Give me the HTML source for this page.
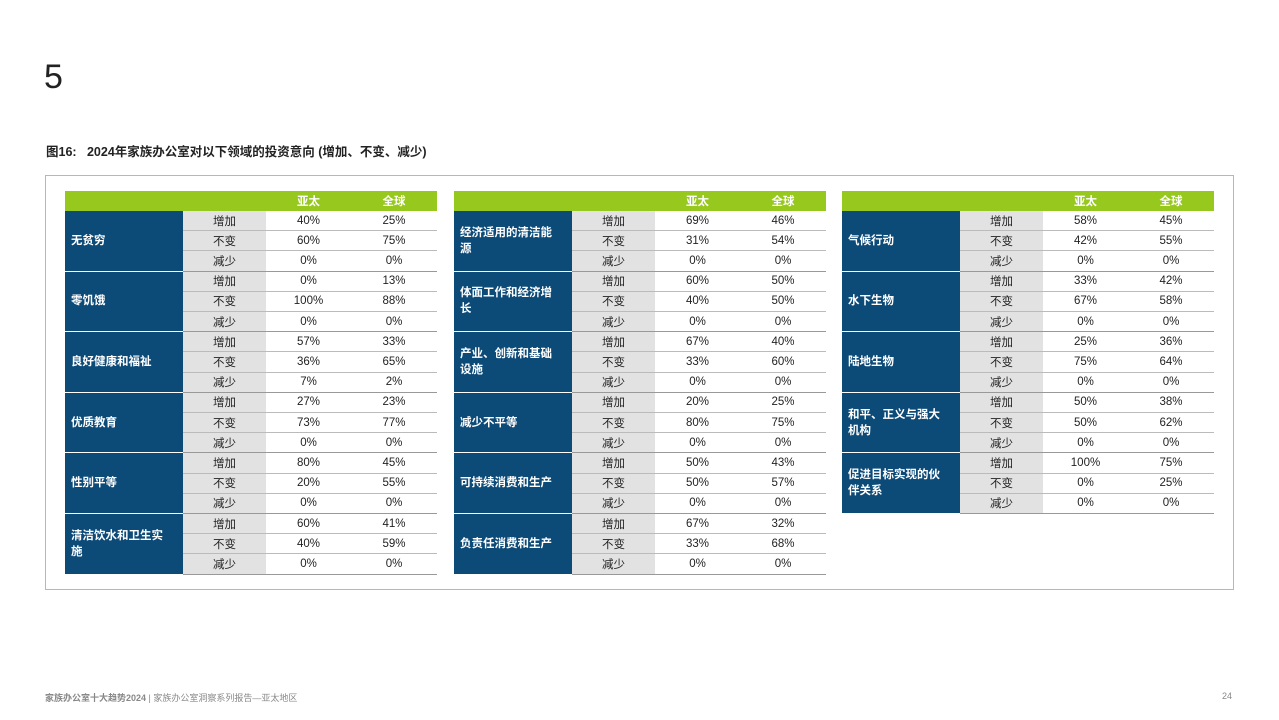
<!DOCTYPE html>
<html><head><meta charset="utf-8">
<style>
body{margin:0;width:1279px;height:720px;background:#fff;position:relative;overflow:hidden;font-family:"Liberation Sans","Noto Sans CJK SC",sans-serif;}
.abs{position:absolute;}
.cell{position:absolute;display:flex;align-items:center;box-sizing:border-box;font-size:11.5px;color:#222;}
</style></head><body>
<div class="abs" style="left:44px;top:58px;font-size:34px;color:#222;font-weight:300;">5</div>
<div class="abs" style="left:46px;top:141px;font-size:12.5px;font-weight:bold;color:#222;">图16:&nbsp;&nbsp; 2024年家族办公室对以下领域的投资意向 (增加、不变、减少)</div>
<div class="abs" style="left:45px;top:175px;width:1189px;height:415px;border:1.5px solid #a9d34f;box-sizing:border-box;"></div>
<div id="tables"></div>
<div class="abs" style="left:45px;top:691px;font-size:9px;color:#888;"><b>家族办公室十大趋势2024</b> | 家族办公室洞察系列报告—亚太地区</div>
<div class="abs" style="left:1222px;top:691px;font-size:9px;color:#888;">24</div>
<script>
const labels=["增加","不变","减少"];
const cats1=["无贫穷","零饥饿","良好健康和福祉","优质教育","性别平等","清洁饮水和卫生实施"];
const ap1=[[40,60,0],[0,100,0],[57,36,7],[27,73,0],[80,20,0],[60,40,0]];
const gl1=[[25,75,0],[13,88,0],[33,65,2],[23,77,0],[45,55,0],[41,59,0]];
const cats2=["经济适用的清洁能源","体面工作和经济增长","产业、创新和基础设施","减少不平等","可持续消费和生产","负责任消费和生产"];
const ap2=[[69,31,0],[60,40,0],[67,33,0],[20,80,0],[50,50,0],[67,33,0]];
const gl2=[[46,54,0],[50,50,0],[40,60,0],[25,75,0],[43,57,0],[32,68,0]];
const cats3=["气候行动","水下生物","陆地生物","和平、正义与强大机构","促进目标实现的伙伴关系"];
const ap3=[[58,42,0],[33,67,0],[25,75,0],[50,50,0],[100,0,0]];
const gl3=[[45,55,0],[42,58,0],[36,64,0],[38,62,0],[75,25,0]];
const root=document.getElementById('tables');
function mk(x,y,w,h,css,txt){const d=document.createElement('div');d.className='cell';d.style.cssText+=`left:${x}px;top:${y}px;width:${w}px;height:${h}px;`+css;if(txt!==undefined)d.textContent=txt;root.appendChild(d);return d;}
function table(x0,cats,ap,gl,ti){
  const top=191,hh=20,rh=20.2,w=[118,83,85,86];
  const xs=[x0,x0+w[0],x0+w[0]+w[1],x0+w[0]+w[1]+w[2]];
  let h=mk(x0,top,372,hh,'background:#97c81e;');
  
  
  let a=mk(xs[2],top,w[2],hh,'justify-content:center;color:#fff;font-weight:bold;font-size:11.5px;','亚太');
  
  
  let g=mk(xs[3],top,w[3],hh,'justify-content:center;color:#fff;font-weight:bold;font-size:11.5px;','全球');
  
  
  cats.forEach((c,i)=>{
    const gy=top+hh+i*rh*3;
    const cc=mk(xs[0],gy,w[0],rh*3,'background:#0c4a78;color:#fff;font-weight:bold;padding:0 18px 0 6px;line-height:16px;border-bottom:1px solid #fff;',c);
    
    
    for(let r=0;r<3;r++){
      const y=gy+r*rh;
      const bb=r==2?'border-bottom:1px solid #999;':'border-bottom:1px solid #bbb;';
      const lc=mk(xs[1],y,w[1],rh,'background:#e2e2e2;justify-content:center;'+bb,labels[r]);
      
      
      const v1=mk(xs[2],y,w[2],rh,'justify-content:center;'+bb,ap[i][r]+'%');
      
      
      const v2=mk(xs[3],y,w[3],rh,'justify-content:center;'+bb,gl[i][r]+'%');
      
      
    }
  });
}
table(65,cats1,ap1,gl1,1);
table(454,cats2,ap2,gl2,2);
table(842,cats3,ap3,gl3,3);
</script>
</body></html>
